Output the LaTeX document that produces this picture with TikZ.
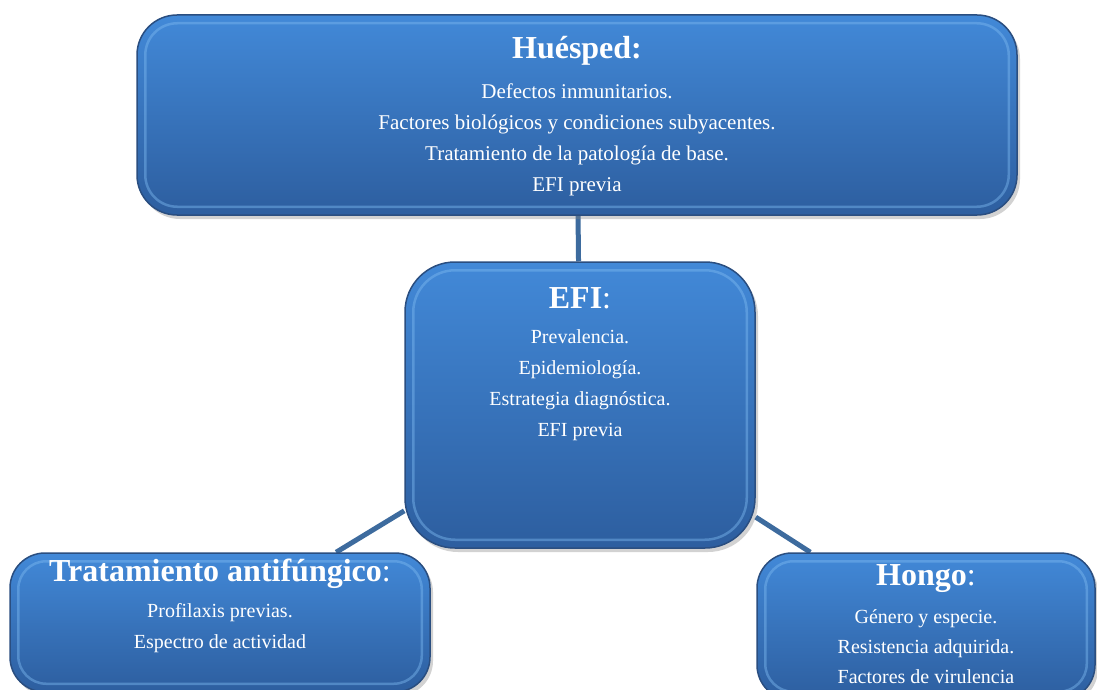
\documentclass[tikz,border=0pt]{standalone}
\usepackage{fontspec}
\setmainfont{Liberation Serif}
\usetikzlibrary{shadows,backgrounds}
\definecolor{boxtop}{HTML}{4289D8}
\definecolor{boxbot}{HTML}{2D5E9F}
\definecolor{rim}{HTML}{2A4E80}
\definecolor{bevelc}{HTML}{7DB9F0}
\definecolor{connc}{HTML}{3D6B9E}
\tikzset{
  box/.style={rounded corners=#1, draw=rim, line width=1.5pt, top color=boxtop, bottom color=boxbot,
    drop shadow={opacity=0.35,shadow xshift=3pt,shadow yshift=-4pt}, inner sep=0pt},
  box/.default=40pt,
  bevelline/.style={draw=bevelc, draw opacity=0.45, line width=2.5pt, rounded corners=#1},
  bevelline/.default=32pt,
  conn/.style={draw=connc, line width=5pt},
  ttl/.style={text=white, font=\fontsize{32}{36}\selectfont, inner sep=0pt},
  body/.style={text=white, font=\fontsize{20}{31}\selectfont, align=center, inner sep=0pt},
}
\begin{document}
\begin{tikzpicture}[x=1pt,y=-1pt]
\useasboundingbox (0,0) rectangle (1097,690);
\clip (0,0) rectangle (1097,690);
% boxes
\node[box=40pt, minimum width=880pt, minimum height=200pt] (host) at (577,115) {};
\draw[bevelline=32pt] ([shift={(9pt,-9pt)}]host.north west) rectangle ([shift={(-9pt,9pt)}]host.south east);
\node[box=50pt, minimum width=350pt, minimum height=286pt] (efi) at (580,405) {};
\draw[bevelline=42pt] ([shift={(9pt,-9pt)}]efi.north west) rectangle ([shift={(-9pt,9pt)}]efi.south east);
\node[box=35pt, minimum width=420pt, minimum height=139pt] (tto) at (220,622.5) {};
\draw[bevelline=28pt] ([shift={(9pt,-9pt)}]tto.north west) rectangle ([shift={(-9pt,9pt)}]tto.south east);
\node[box=35pt, minimum width=338pt, minimum height=147pt] (hongo) at (926,626.5) {};
\draw[bevelline=28pt] ([shift={(9pt,-9pt)}]hongo.north west) rectangle ([shift={(-9pt,9pt)}]hongo.south east);
% texts
\node[ttl] (hostT) at (577,51) {\textbf{Huésped:}};
\node[body, font=\fontsize{21}{31}\selectfont] (hostB) at (577,139.5) {Defectos inmunitarios.\\Factores biológicos y condiciones subyacentes.\\Tratamiento de la patología de base.\\EFI previa};
\node[ttl] (efiT) at (580,298) {\textbf{EFI}:};
\node[body] (efiB) at (580,385) {Prevalencia.\\Epidemiología.\\Estrategia diagnóstica.\\EFI previa};
\node[ttl] (ttoT) at (220,574) {\textbf{Tratamiento antifúngico}:};
\node[body] (ttoB) at (220,628) {Profilaxis previas.\\Espectro de actividad};
\node[ttl] (hongoT) at (926,579) {\textbf{Hongo}:};
\node[body, font=\fontsize{20}{30}\selectfont] (hongoB) at (926,647) {Género y especie.\\Resistencia adquirida.\\Factores de virulencia};
% connectors
\begin{scope}[on background layer]
\fill[white] (0,0) rectangle (1097,690);
\draw[conn] (host) -- (efi);
\draw[conn] (efi) -- (tto);
\draw[conn] (efi) -- (hongo);
\end{scope}
\end{tikzpicture}
\end{document}
